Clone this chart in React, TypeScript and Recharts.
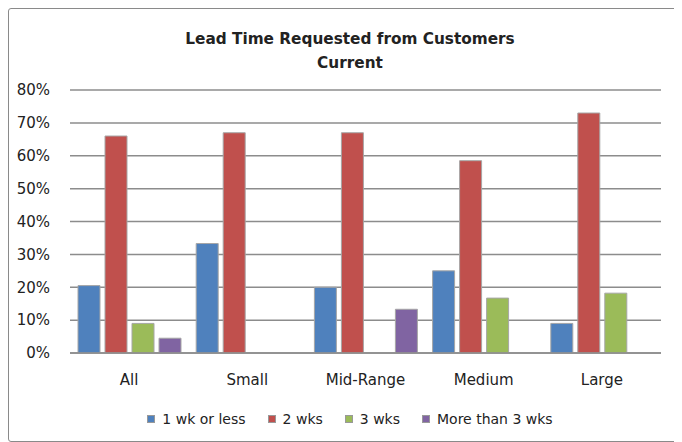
import React from "react";
import { BarChart, Bar, XAxis, YAxis, CartesianGrid, Legend } from "recharts";

const categories = ["All", "Small", "Mid-Range", "Medium", "Large"];
const oneWkOrLess = [20.5, 33.3, 20, 25, 9];
const twoWks = [66, 67, 67, 58.5, 73];
const threeWks: (number | null)[] = [9, null, null, 16.7, 18.2];
const moreThan3Wks: (number | null)[] = [4.5, null, 13.3, null, null];
const yTicks = [0, 10, 20, 30, 40, 50, 60, 70, 80];

const seriesNames = ["1 wk or less", "2 wks", "3 wks", "More than 3 wks"];
const seriesColors = ["#4F81BD", "#C0504D", "#9BBB59", "#8064A2"];

const data = categories.map((c, i) => ({
  name: c,
  s0: oneWkOrLess[i],
  s1: twoWks[i],
  s2: threeWks[i],
  s3: moreThan3Wks[i],
}));

const FONT = "'DejaVu Sans', Verdana, sans-serif";

const LegendContent = () => (
  <div style={{ display: "flex", justifyContent: "center", fontFamily: FONT, fontSize: 14, color: "#222", paddingTop: 16, paddingLeft: 30 }}>
    {seriesNames.map((n, i) => (
      <div key={n} style={{ display: "flex", alignItems: "center", marginRight: i < 3 ? 22 : 0 }}>
        <span style={{ display: "inline-block", width: 6, height: 6, background: seriesColors[i], border: "1px solid #999", marginRight: 7 }} />
        <span>{n}</span>
      </div>
    ))}
  </div>
);

export default function App() {
  return (
    <div style={{ position: "relative", width: 672, height: 432, border: "1px solid #8a8a8a", borderRadius: 3, background: "#fff" }}>
      <div style={{ position: "absolute", top: 18, left: 0, width: 682, textAlign: "center", fontFamily: FONT, fontWeight: "bold", fontSize: 15.3, lineHeight: "24px", color: "#222" }}>
        <div>Lead Time Requested from Customers</div>
        <div>Current</div>
      </div>
      <BarChart
        width={672}
        height={432}
        data={data}
        margin={{ top: 81, right: 20, bottom: 20, left: 0 }}
        barSize={22}
        barGap={5}
      >
        <CartesianGrid vertical={false} stroke="#8c8c8c" strokeWidth={1.5} />
        <XAxis
          dataKey="name"
          axisLine={{ stroke: "#8c8c8c", strokeWidth: 1.5 }}
          tickLine={false}
          tickMargin={15}
          height={42}
          tick={{ fontFamily: FONT, fontSize: 15, fill: "#222" }}
        />
        <YAxis
          domain={[0, 80]}
          ticks={yTicks}
          tickFormatter={(v: number) => `${v}%`}
          axisLine={false}
          tickLine={false}
          width={61}
          tickMargin={14}
          tick={{ fontFamily: FONT, fontSize: 15, fill: "#222" }}
        />
        <Legend verticalAlign="bottom" height={26} content={<LegendContent />} />
        {["s0", "s1", "s2", "s3"].map((k, i) => (
          <Bar key={k} dataKey={k} name={seriesNames[i]} fill={seriesColors[i]} stroke="#a6a6a6" strokeWidth={1} isAnimationActive={false} />
        ))}
      </BarChart>
    </div>
  );
}
